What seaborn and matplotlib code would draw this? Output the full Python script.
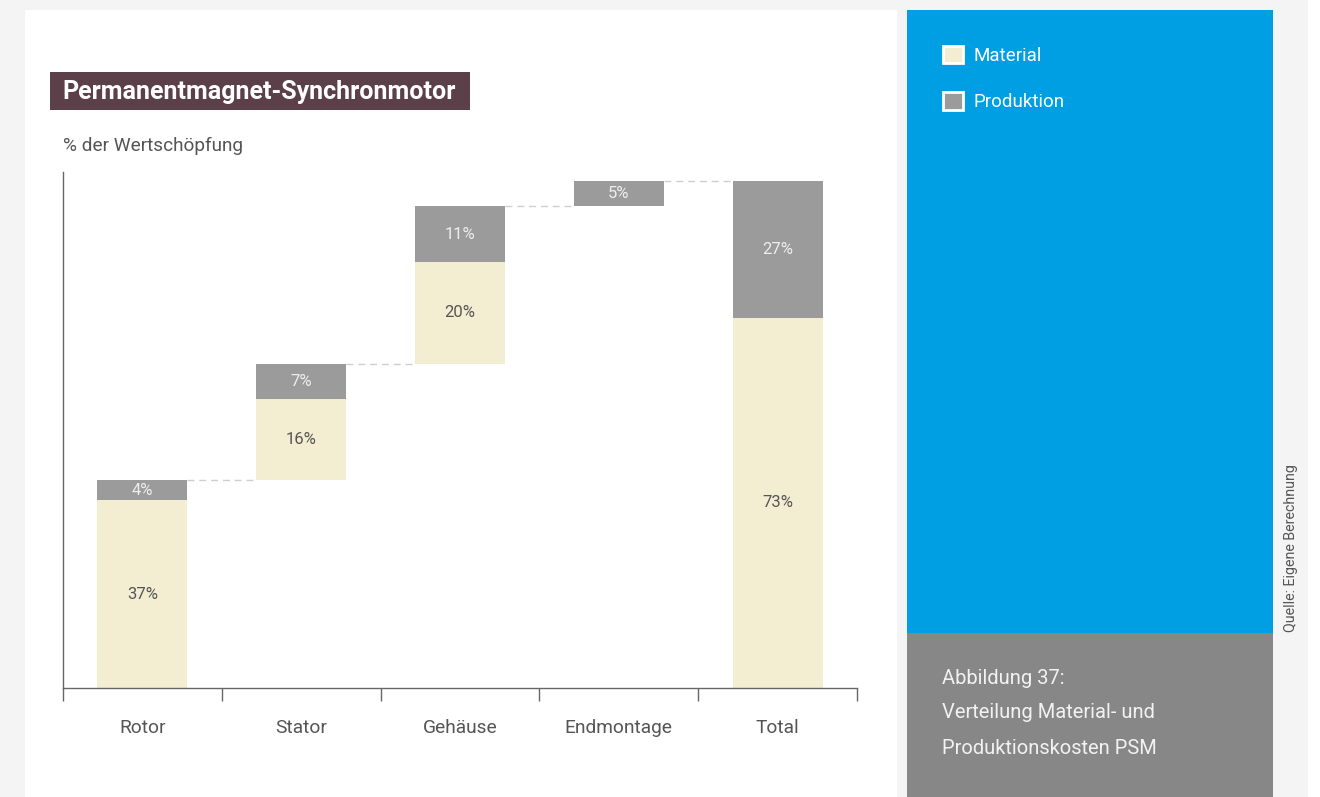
import matplotlib
matplotlib.use("Agg")
import matplotlib.pyplot as plt
from matplotlib.patches import Rectangle, Patch
import seaborn as sns
import pandas as pd
import numpy as np

# ---- data ----
categories = ["Rotor", "Stator", "Gehäuse", "Endmontage", "Total"]
material = [37, 16, 20, 0, 73]
produktion = [4, 7, 11, 5, 27]
series_names = ["Material", "Produktion"]
title = "Permanentmagnet-Synchronmotor"
y_label = "% der Wertschöpfung"
caption = ["Abbildung 37:", "Verteilung Material- und", "Produktionskosten PSM"]
source = "Quelle: Eigene Berechnung"

# ---- style ----
sns.set_theme(style="white")
plt.rcParams["font.family"] = ["Roboto", "DejaVu Sans"]

MAT_C = "#f3edd2"
PROD_C = "#9b9b9b"
BLUE = "#009fe3"
GREY_PANEL = "#878787"
BG = "#f4f4f4"
TXT = "#555555"

W, H = 1320, 797
fig = plt.figure(figsize=(W / 100, H / 100), dpi=100)
fig.patch.set_facecolor("white")


def prect(x0, y0, x1, y1, color, z=0):
    fig.add_artist(Rectangle((x0 / W, 1 - y1 / H), (x1 - x0) / W, (y1 - y0) / H,
                             transform=fig.transFigure, facecolor=color,
                             edgecolor="none", zorder=z))


prect(0, 0, 1308, 797, BG)
prect(25, 10, 897, 797, "white")
prect(907, 10, 1273, 633, BLUE)
prect(907, 633, 1273, 797, GREY_PANEL)

# ---- waterfall geometry from data ----
n = len(categories)
tops = []
bases = []
cum = 0
for i in range(n):
    if categories[i] == "Total":
        bases.append(0)
    else:
        bases.append(cum)
        cum += material[i] + produktion[i]
    tops.append(bases[-1] + material[i] + produktion[i])
prod_bottom = [b + m for b, m in zip(bases, material)]

df = pd.DataFrame({"Kategorie": categories, "Material": material,
                   "Produktion": produktion})

ax = fig.add_axes([63 / W, (H - 688) / H, (857 - 63) / W, (688 - 172) / H])
ax.set_facecolor("none")
bw = 0.567
sns.barplot(data=df, x="Kategorie", y="Material", order=categories, color=MAT_C,
            saturation=1, errorbar=None, width=bw, bottom=bases, ax=ax,
            linewidth=0)
sns.barplot(data=df, x="Kategorie", y="Produktion", order=categories, color=PROD_C,
            saturation=1, errorbar=None, width=bw, bottom=prod_bottom, ax=ax,
            linewidth=0)

# connectors
for i in range(n - 1):
    y = tops[i]
    ax.plot([i + bw / 2, i + 1 - bw / 2], [y, y], color="#cfcfcf", lw=1,
            ls=(0, (5, 3.5)), zorder=1)

# labels
for i in range(n):
    if material[i] > 0:
        ax.text(i, bases[i] + material[i] / 2, f"{material[i]}%", ha="center",
                va="center", color=TXT, fontsize=12)
    if produktion[i] > 0:
        ax.text(i, prod_bottom[i] + produktion[i] / 2, f"{produktion[i]}%",
                ha="center", va="center", color="#eeeeee", fontsize=12)

ax.set_xlim(-0.5, n - 0.5)
ax.set_ylim(0, 101.8)
ax.set_xlabel("")
ax.set_ylabel("")
ax.set_yticks([])
ax.set_xticks(range(n))
ax.set_xticklabels(categories, color=TXT, fontsize=13.8)
ax.set_xticks(np.arange(-0.5, n, 1.0), minor=True)
ax.tick_params(axis="x", which="major", length=0, pad=22)
ax.tick_params(axis="x", which="minor", length=9, width=1, color="#666666",
               direction="out", bottom=True)
for s in ["top", "right"]:
    ax.spines[s].set_visible(False)
for s in ["left", "bottom"]:
    ax.spines[s].set_color("#666666")
    ax.spines[s].set_linewidth(1)

# title box
prect(50, 72, 470, 110, "#5b3f49", z=2)
fig.text(62 / W, 1 - 92 / H, title, color="white", fontsize=18, fontweight="bold",
         va="center", ha="left", zorder=3)
fig.text(63 / W, 1 - 146 / H, y_label, color=TXT, fontsize=13.7, va="center",
         ha="left")

# legend
handles = [Patch(facecolor=MAT_C, edgecolor="white", linewidth=2),
           Patch(facecolor=PROD_C, edgecolor="white", linewidth=2)]
leg = fig.legend(handles, series_names, loc="upper left",
                 bbox_to_anchor=(943 / W, 1 - 46 / H), frameon=False,
                 fontsize=13.5, handlelength=1.05, handleheight=1.05,
                 handletextpad=0.6, labelspacing=1.45, borderpad=0,
                 borderaxespad=0)
for t in leg.get_texts():
    t.set_color("white")

# caption
for k, (line, yy) in enumerate(zip(caption, [679, 713, 748])):
    fig.text(942 / W, 1 - yy / H, line, color="#f2f2f2", fontsize=14.5,
             va="center", ha="left")

fig.text(1291 / W, 1 - 632 / H, source, rotation=90, ha="center", va="bottom",
         color=TXT, fontsize=10.3)

fig.savefig("out.png", dpi=100, facecolor=fig.get_facecolor())
